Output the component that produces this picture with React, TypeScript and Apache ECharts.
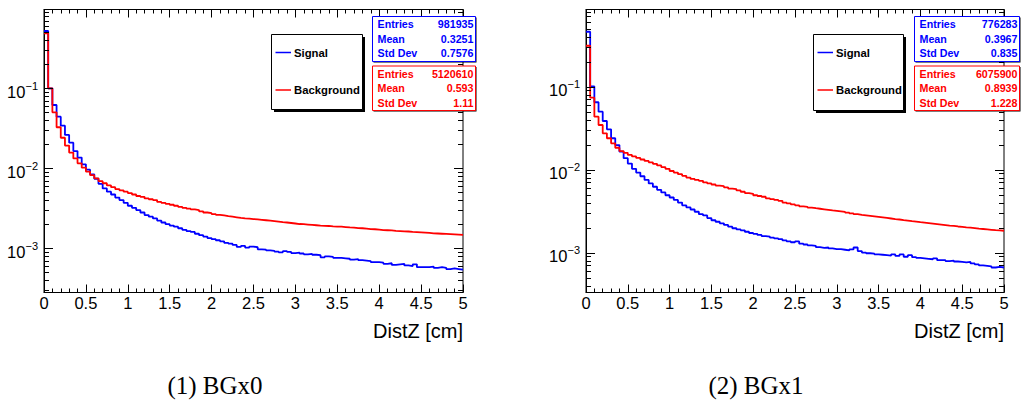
import React, { useEffect, useRef } from "react";
import * as echarts from "echarts";

// ---------- data ----------
const binWidth = 0.05;
const xMin = 0;
const xMax = 5;
const xTickInterval = 0.5;

// BGx0
const signal0 = [
  0.52, 0.1, 0.0618, 0.0442, 0.0341, 0.0261, 0.0209, 0.0164, 0.0136, 0.0112,
  0.0096, 0.0084, 0.0074, 0.0064, 0.0056, 0.0051, 0.0047, 0.0043, 0.004, 0.0037,
  0.0034, 0.0032, 0.003, 0.0028, 0.0026, 0.00248, 0.00236, 0.00222, 0.0021, 0.002,
  0.00192, 0.00186, 0.00178, 0.0017, 0.00164, 0.0016, 0.00152, 0.00146, 0.0014, 0.00134,
  0.0013, 0.00126, 0.00122, 0.00117, 0.00114, 0.0011, 0.00104, 0.00107, 0.00102, 0.00105,
  0.00103, 0.00097, 0.00096, 0.00094, 0.00093, 0.00091, 0.00089, 0.00092, 0.0009, 0.00087,
  0.00088, 0.00086, 0.00084, 0.00085, 0.00083, 0.00082, 0.00077, 0.00079, 0.00078, 0.00076,
  0.00076, 0.00075, 0.00074, 0.00072, 0.00073, 0.00071, 0.0007, 0.00069, 0.00067, 0.00067,
  0.00066, 0.00064, 0.00065, 0.00062, 0.00063, 0.00064, 0.00061, 0.0006, 0.00063, 0.00058,
  0.00058, 0.00058, 0.00059, 0.00057, 0.00058, 0.00057, 0.00055, 0.00056, 0.00055, 0.00054,
];
const background0 = [
  0.487, 0.1, 0.05, 0.0326, 0.0241, 0.0192, 0.0157, 0.0133, 0.01155, 0.0102,
  0.0091, 0.0082, 0.0075, 0.0069, 0.0065, 0.0061, 0.0058, 0.0055, 0.0053, 0.0051,
  0.0049, 0.0047, 0.0045, 0.0044, 0.0042, 0.0041, 0.004, 0.0038, 0.0037, 0.0036,
  0.0035, 0.0034, 0.0033, 0.0032, 0.00313, 0.00306, 0.003, 0.0029, 0.0028, 0.00275,
  0.00268, 0.00262, 0.00257, 0.00252, 0.00248, 0.00244, 0.0024, 0.00237, 0.00235, 0.00232,
  0.0023, 0.00227, 0.00224, 0.00221, 0.00218, 0.00215, 0.00212, 0.0021, 0.00207, 0.00204,
  0.00201, 0.002, 0.00198, 0.00196, 0.00194, 0.00192, 0.00191, 0.0019, 0.00188, 0.00187,
  0.00186, 0.00184, 0.00182, 0.00181, 0.00179, 0.00178, 0.00176, 0.00174, 0.00173, 0.00171,
  0.00169, 0.00168, 0.00167, 0.00165, 0.00164, 0.00163, 0.00162, 0.0016, 0.00159, 0.00158,
  0.00157, 0.00156, 0.00154, 0.00153, 0.00152, 0.00151, 0.0015, 0.00149, 0.00148, 0.00147,
];
// BGx1
const signal1 = [
  0.457, 0.1, 0.0646, 0.0497, 0.0384, 0.0305, 0.0238, 0.0197, 0.0164, 0.0137,
  0.0118, 0.0102, 0.0092, 0.0083, 0.0075, 0.0068, 0.0062, 0.0057, 0.0053, 0.0049,
  0.0046, 0.0043, 0.004, 0.0037, 0.0035, 0.0033, 0.0031, 0.0029, 0.0028, 0.0026,
  0.00245, 0.00235, 0.00225, 0.00215, 0.00205, 0.00196, 0.0019, 0.00185, 0.00178, 0.00172,
  0.00168, 0.00163, 0.00158, 0.00155, 0.00151, 0.00148, 0.00145, 0.0014, 0.00136, 0.00133,
  0.00136, 0.00128, 0.00125, 0.00122, 0.0012, 0.00116, 0.00114, 0.00115, 0.00112, 0.0011,
  0.0011, 0.00108, 0.00106, 0.00109, 0.00115, 0.00104, 0.001, 0.00098, 0.00097, 0.00095,
  0.00094, 0.00093, 0.00092, 0.00095, 0.00091, 0.00095, 0.00089, 0.00093, 0.00088, 0.00086,
  0.00085, 0.00084, 0.00083, 0.00085, 0.00081, 0.00081, 0.00079, 0.0008, 0.00078, 0.00077,
  0.00076, 0.00077, 0.00074, 0.00072, 0.0007, 0.00069, 0.00068, 0.00066, 0.00067, 0.00066,
];
const background1 = [
  0.31, 0.0733, 0.0433, 0.0344, 0.0273, 0.0238, 0.0207, 0.0183, 0.0167, 0.0159,
  0.015, 0.0144, 0.0138, 0.0132, 0.0127, 0.0122, 0.0117, 0.0112, 0.0107, 0.0102,
  0.0096, 0.0092, 0.0088, 0.0084, 0.008, 0.0077, 0.0075, 0.0073, 0.007, 0.0068,
  0.0066, 0.0064, 0.0063, 0.0061, 0.0059, 0.0058, 0.0056, 0.0054, 0.0052, 0.0051,
  0.0049, 0.0048, 0.0047, 0.0045, 0.0044, 0.0043, 0.0042, 0.004, 0.0039, 0.0038,
  0.0037, 0.0036, 0.00355, 0.00348, 0.00342, 0.00337, 0.00332, 0.00327, 0.00322, 0.00318,
  0.00313, 0.00308, 0.00302, 0.00296, 0.0029, 0.00285, 0.00281, 0.00277, 0.00273, 0.00269,
  0.00265, 0.00261, 0.00257, 0.00253, 0.0025, 0.00246, 0.00243, 0.00239, 0.00236, 0.00232,
  0.00229, 0.00226, 0.00223, 0.0022, 0.00217, 0.00214, 0.00211, 0.00209, 0.00206, 0.00204,
  0.00201, 0.00199, 0.00197, 0.00194, 0.00192, 0.0019, 0.00188, 0.00186, 0.00185, 0.00183,
];

const yRange0 = [2.8e-4, 0.966];
const yRange1 = [3.3e-4, 0.847];

const yDecades = [1e-4, 1e-3, 1e-2, 1e-1];
const yMinorMantissas = [2, 3, 4, 5, 6, 7, 8, 9];

const seriesNames = ["Signal", "Background"];
const statLabels = ["Entries", "Mean", "Std Dev"];
const signalStats0 = ["981935", "0.3251", "0.7576"];
const backgroundStats0 = ["5120610", "0.593", "1.11"];
const signalStats1 = ["776283", "0.3967", "0.835"];
const backgroundStats1 = ["6075900", "0.8939", "1.228"];
const xTitle = "DistZ [cm]";
const captions = ["(1) BGx0", "(2) BGx1"];

// ---------- styling ----------
const FONT = '"Liberation Sans", Arial, Helvetica, sans-serif';
const SERIF = '"Liberation Serif", "Times New Roman", serif';
const BLUE = "#0000ff";
const RED = "#ff0000";

const panels = [
  {
    grid: { left: 44, top: 9.5, width: 419, height: 283 },
    yRange: yRange0,
    sig: signal0,
    bkg: background0,
    sigStats: signalStats0,
    bkgStats: backgroundStats0,
    legend: { x: 271, y: 34, w: 91, h: 75 },
    stat: { x: 372, w: 103 },
    caption: 215,
  },
  {
    grid: { left: 586, top: 9.5, width: 418, height: 283 },
    yRange: yRange1,
    sig: signal1,
    bkg: background1,
    sigStats: signalStats1,
    bkgStats: backgroundStats1,
    legend: { x: 813, y: 34, w: 90, h: 76 },
    stat: { x: 914, w: 105 },
    caption: 756,
  },
];

function toSteps(vals: number[]) {
  const pts: number[][] = vals.map((v, i) => [Math.round(i * binWidth * 1000) / 1000, v]);
  pts.push([xMax, vals[vals.length - 1]]);
  return pts;
}

function yTickData(range: number[]) {
  const out: number[][] = [];
  yDecades.forEach((d) => {
    if (d >= range[0] && d <= range[1]) out.push([xMin, d, 1]);
    yMinorMantissas.forEach((m) => {
      const v = m * d;
      if (v >= range[0] && v <= range[1]) out.push([xMin, v, 0]);
    });
  });
  return out;
}

function buildOption() {
  const grid: any[] = [];
  const xAxis: any[] = [];
  const yAxis: any[] = [];
  const series: any[] = [];
  const graphic: any[] = [];

  panels.forEach((p, gi) => {
    grid.push({
      ...p.grid,
      show: true,
      borderColor: "#000",
      borderWidth: 1,
      backgroundColor: "transparent",
      containLabel: false,
      outerBoundsMode: "none",
    });
    const xBase = {
      gridIndex: gi,
      type: "value",
      min: xMin,
      max: xMax,
      interval: xTickInterval,
      axisLine: { show: true, lineStyle: { color: "#000", width: 1 } },
      axisTick: { show: true, inside: true, length: 8, lineStyle: { color: "#000", width: 1 } },
      minorTick: { show: true, splitNumber: 5, length: 4, lineStyle: { color: "#000", width: 1 } },
      splitLine: { show: false },
      minorSplitLine: { show: false },
    };
    xAxis.push({
      ...xBase,
      position: "bottom",
      axisLabel: {
        show: true,
        color: "#000",
        fontSize: 16.5,
        fontFamily: FONT,
        margin: 2,
        formatter: (v: number) => String(Math.round(v * 10) / 10),
      },
    });
    xAxis.push({ ...xBase, position: "top", axisLabel: { show: false } });
    yAxis.push({
      gridIndex: gi,
      type: "log",
      logBase: 10,
      min: p.yRange[0],
      max: p.yRange[1],
      position: "left",
      axisLine: { show: true, lineStyle: { color: "#000", width: 1 } },
      axisTick: { show: false },
      minorTick: { show: false },
      splitLine: { show: false },
      axisLabel: {
        show: true,
        margin: 6,
        showMinLabel: false,
        showMaxLabel: false,
        padding: [4, 0, 0, 0],
        formatter: (v: number) => {
          const l = Math.log10(v);
          const e = Math.round(l);
          if (Math.abs(l - e) > 1e-6) return "";
          return `{b|10}{s|${e < 0 ? "\u2212" : ""}${Math.abs(e)}}`;
        },
        rich: {
          b: { fontSize: 16.5, fontFamily: FONT, color: "#000", verticalAlign: "bottom", lineHeight: 20 },
          s: { fontSize: 11, fontFamily: FONT, color: "#000", verticalAlign: "top", lineHeight: 12 },
        },
      },
    });

    const xi = gi * 2;
    series.push({
      name: seriesNames[0],
      type: "line",
      xAxisIndex: xi,
      yAxisIndex: gi,
      data: toSteps(p.sig),
      step: "end",
      symbol: "none",
      showSymbol: false,
      lineStyle: { color: BLUE, width: 1.8 },
      itemStyle: { color: BLUE },
      z: 3,
    });
    series.push({
      name: seriesNames[1],
      type: "line",
      xAxisIndex: xi,
      yAxisIndex: gi,
      data: toSteps(p.bkg),
      step: "end",
      symbol: "none",
      showSymbol: false,
      lineStyle: { color: RED, width: 1.8 },
      itemStyle: { color: RED },
      z: 4,
    });
    series.push({
      type: "custom",
      xAxisIndex: xi,
      yAxisIndex: gi,
      silent: true,
      clip: false,
      z: 5,
      encode: { x: 0, y: 1 },
      data: yTickData(p.yRange),
      renderItem: (params: any, api: any) => {
        const v = api.value(1);
        const major = api.value(2) === 1;
        const a = api.coord([xMin, v]);
        const b = api.coord([xMax, v]);
        const len = major ? 9 : 5;
        const y = Math.round(a[1]) + 0.5;
        return {
          type: "group",
          children: [
            { type: "line", shape: { x1: a[0], y1: y, x2: a[0] + len, y2: y }, style: { stroke: "#000", lineWidth: 1 } },
            { type: "line", shape: { x1: b[0] - len, y1: y, x2: b[0], y2: y }, style: { stroke: "#000", lineWidth: 1 } },
          ],
        };
      },
    });

    // x-axis title
    graphic.push({
      type: "text",
      x: p.grid.left + p.grid.width,
      y: 331,
      style: { text: xTitle, fill: "#000", font: `20px ${FONT}`, align: "right", verticalAlign: "middle" },
    });

    // legend box
    const L = p.legend;
    graphic.push({ type: "rect", z: 100, shape: { x: L.x + 3, y: L.y + 3, width: L.w, height: L.h }, style: { fill: "#000" } });
    graphic.push({
      type: "rect",
      z: 101,
      shape: { x: L.x + 0.5, y: L.y + 0.5, width: L.w, height: L.h },
      style: { fill: "#fff", stroke: "#000", lineWidth: 1 },
    });
    const rows = [
      { c: BLUE, t: seriesNames[0], y: L.y + 18.5 },
      { c: RED, t: seriesNames[1], y: L.y + 56 },
    ];
    rows.forEach((r) => {
      graphic.push({
        type: "line",
        z: 102,
        shape: { x1: L.x + 4.5, y1: r.y, x2: L.x + 20, y2: r.y },
        style: { stroke: r.c, lineWidth: 1.5 },
      });
      graphic.push({
        type: "text",
        z: 102,
        x: L.x + 23,
        y: r.y,
        style: { text: r.t, fill: "#000", font: `bold 11.3px ${FONT}`, align: "left", verticalAlign: "middle" },
      });
    });

    // stat boxes
    const S = p.stat;
    const boxes = [
      { c: BLUE, vals: p.sigStats, y: 16, h: 45 },
      { c: RED, vals: p.bkgStats, y: 65.5, h: 44.5 },
    ];
    boxes.forEach((bx) => {
      graphic.push({ type: "rect", z: 100, shape: { x: S.x + 1.5, y: bx.y + 1.5, width: S.w, height: bx.h }, style: { fill: "#000" } });
      graphic.push({
        type: "rect",
        z: 101,
        shape: { x: S.x + 0.5, y: bx.y + 0.5, width: S.w, height: bx.h },
        style: { fill: "#fff", stroke: bx.c, lineWidth: 1 },
      });
      statLabels.forEach((lab, i) => {
        const ty = bx.y + 8.3 + i * 14.5;
        graphic.push({
          type: "text",
          z: 102,
          x: S.x + 5.5,
          y: ty,
          style: { text: lab, fill: bx.c, font: `bold 10.7px ${FONT}`, align: "left", verticalAlign: "middle" },
        });
        graphic.push({
          type: "text",
          z: 102,
          x: S.x + S.w - 1.5,
          y: ty,
          style: { text: bx.vals[i], fill: bx.c, font: `bold 10.7px ${FONT}`, align: "right", verticalAlign: "middle" },
        });
      });
    });

    // caption
    graphic.push({
      type: "text",
      x: p.caption,
      y: 385,
      style: { text: captions[gi], fill: "#000", font: `25px ${SERIF}`, align: "center", verticalAlign: "middle" },
    });
  });

  return {
    animation: false,
    backgroundColor: "#fff",
    grid,
    xAxis,
    yAxis,
    series,
    graphic,
  };
}

export default function App() {
  const ref = useRef<HTMLDivElement>(null);
  useEffect(() => {
    if (!ref.current) return;
    const chart = echarts.init(ref.current, undefined, { renderer: "svg" });
    chart.setOption(buildOption() as any);
    return () => chart.dispose();
  }, []);
  return (
    <div
      ref={ref}
      style={{ position: "absolute", left: 0, top: 0, width: 1022, height: 409, background: "#fff" }}
    />
  );
}
